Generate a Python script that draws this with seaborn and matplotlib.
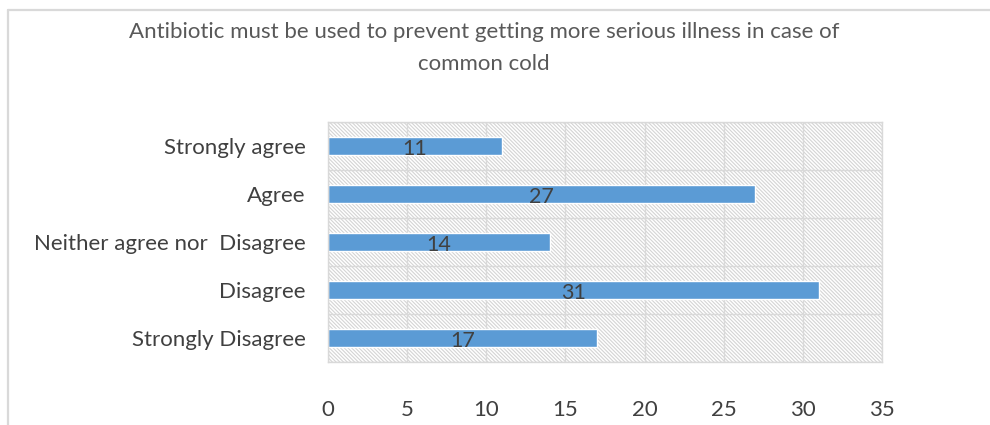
import matplotlib
matplotlib.use("Agg")
import matplotlib.pyplot as plt
from matplotlib.patches import Rectangle
import seaborn as sns
import pandas as pd

categories = ["Strongly agree", "Agree", "Neither agree nor  Disagree",
              "Disagree", "Strongly Disagree"]
values = [11, 27, 14, 31, 17]
x_ticks = [0, 5, 10, 15, 20, 25, 30, 35]
title = "Antibiotic must be used to prevent getting more serious illness in case of\ncommon cold"

sns.set_theme(style="white")
plt.rcParams["font.family"] = ["Lato", "DejaVu Sans"]
plt.rcParams["hatch.linewidth"] = 0.8

BAR = "#5b9bd5"
GRID = "#d9d9d9"
TEXT = "#404040"

df = pd.DataFrame({"category": categories, "count": values})

fig = plt.figure(figsize=(9.9, 4.25), dpi=100)
W, H = 990, 425
# axes in pixel terms: left 328, right 882, top 122, bottom 362
ax = fig.add_axes([328 / W, 1 - 362 / H, (882 - 328) / W, (362 - 122) / H])

# chart-area frame along the top and left edges
fig.add_artist(plt.Line2D([8 / W, 1], [1 - 10 / H, 1 - 10 / H],
                          transform=fig.transFigure, color=GRID, lw=1.6))
fig.add_artist(plt.Line2D([8 / W, 8 / W], [0, 1 - 10 / H],
                          transform=fig.transFigure, color=GRID, lw=1.6))

# hatched plot-area background
ax.add_patch(Rectangle((0, 0), 1, 1, transform=ax.transAxes, facecolor="white",
                       edgecolor="#d4d4d4", hatch="\\" * 9, lw=0, zorder=0))

sns.barplot(data=df, x="count", y="category", color=BAR, width=0.375,
            saturation=1, ax=ax, zorder=2)

labels = ax.bar_label(ax.containers[0], label_type="center", fontsize=15.5,
                      color=TEXT)
for t in labels:
    t.xyann = (0, -2)

ax.set_xlim(0, 35)
ax.set_ylim(len(categories) - 0.5, -0.5)
ax.set_xticks(x_ticks)
ax.set_xticklabels([str(t) for t in x_ticks])
ax.set_yticks(range(len(categories)))
ax.set_yticks([i + 0.5 for i in range(-1, len(categories))], minor=True)

ax.set_axisbelow(True)
ax.grid(axis="x", which="major", color=GRID, lw=1.0)
ax.grid(axis="y", which="minor", color=GRID, lw=1.0)
ax.grid(axis="y", which="major", visible=False)

ax.tick_params(axis="both", which="both", length=0)
ax.tick_params(axis="y", pad=16, labelsize=16, labelcolor=TEXT)
ax.tick_params(axis="x", pad=27, labelsize=16, labelcolor=TEXT)
ax.set_xlabel("")
ax.set_ylabel("")

for s in ax.spines.values():
    s.set_color(GRID)
    s.set_linewidth(1.0)

fig.text(484 / W, 1 - 48 / H, title, ha="center", va="center",
         fontsize=16, color="#595959", linespacing=1.75)

fig.savefig("out.png", dpi=100, facecolor="white")
